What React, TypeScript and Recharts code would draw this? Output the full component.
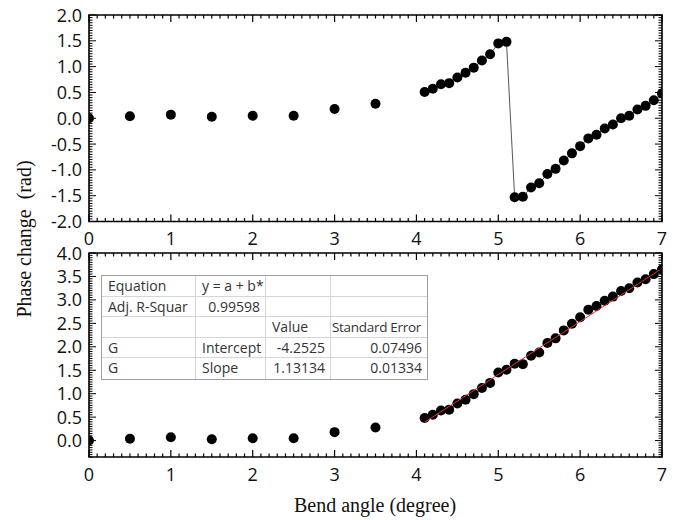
import { ScatterChart, Scatter, XAxis, YAxis, ReferenceArea } from "recharts";

// measured points: bend angle (degree) vs phase change (rad)
const angleLow = [0, 0.5, 1, 1.5, 2, 2.5, 3, 3.5];
const phaseLow = [0, 0.04, 0.07, 0.03, 0.05, 0.05, 0.18, 0.28];

const angleHigh = [
  4.1, 4.2, 4.3, 4.4, 4.5, 4.6, 4.7, 4.8, 4.9, 5.0, 5.1, 5.2, 5.3, 5.4, 5.5,
  5.6, 5.7, 5.8, 5.9, 6.0, 6.1, 6.2, 6.3, 6.4, 6.5, 6.6, 6.7, 6.8, 6.9, 7.0,
];
// top panel: wrapped phase (jumps at 5.1 -> 5.2)
const phaseWrapped = [
  0.51, 0.57, 0.66, 0.68, 0.79, 0.88, 0.98, 1.12, 1.24, 1.45, 1.48, -1.53, -1.52, -1.34, -1.26,
  -1.08, -0.98, -0.82, -0.68, -0.54, -0.39, -0.32, -0.2, -0.12, 0.0, 0.05, 0.17, 0.24, 0.35, 0.48,
];
// bottom panel: unwrapped phase
const phaseUnwrapped = [
  0.48, 0.55, 0.64, 0.66, 0.79, 0.87, 0.99, 1.12, 1.23, 1.45, 1.51, 1.64, 1.63, 1.81, 1.88,
  2.08, 2.18, 2.35, 2.49, 2.63, 2.79, 2.87, 2.98, 3.07, 3.19, 3.25, 3.37, 3.44, 3.55, 3.65,
];

// linear fit end points (red line)
const fitAngle = [4.1, 7.0];
const fitPhase = [0.39, 3.67];

const xMajor = [0, 1, 2, 3, 4, 5, 6, 7];
const topYMajor = [-2, -1.5, -1, -0.5, 0, 0.5, 1, 1.5, 2];
const bottomYMajor = [0, 0.5, 1, 1.5, 2, 2.5, 3, 3.5, 4];

// fit result table
const tableRows = [
  ["Equation", "y = a + b*", "", ""],
  ["Adj. R-Squar", "0.99598", "", ""],
  ["", "", "Value", "Standard Error"],
  ["G", "Intercept", "-4.2525", "0.07496"],
  ["G", "Slope", "1.13134", "0.01334"],
];
const rightAligned = ["0.99598", "-4.2525", "0.07496", "1.13134", "0.01334"];

const pts = (xs: number[], ys: number[]) => xs.map((x, i) => ({ x, y: ys[i] }));

// minor tick positions for the Origin-style frame
function steps(from: number, to: number, step: number) {
  const out: number[] = [];
  const n = Math.round((to - from) / step);
  for (let i = 0; i <= n; i++) out.push(+(from + i * step).toFixed(3));
  return out;
}

const PLOT_W = 573;
const FONT = "'Open Sans', 'Noto Sans', sans-serif";

const isIn = (list: number[], v: number) => list.some((m) => Math.abs(m - v) < 1e-6);

function XTick(props: any) {
  const { x, y, payload, plotH } = props;
  const v = payload.value;
  const major = isIn(xMajor, v);
  const len = major ? 7 : 3.5;
  return (
    <g>
      <line x1={x} x2={x} y1={y} y2={y - len} stroke="#000" strokeWidth={1.2} />
      <line x1={x} x2={x} y1={y - plotH} y2={y - plotH + len} stroke="#000" strokeWidth={1.2} />
      {major && (
        <text x={x} y={y + 23.5} textAnchor="middle" fontSize={18} fontFamily={FONT} fill="#111">
          {v}
        </text>
      )}
    </g>
  );
}

function YTick(props: any) {
  const { x, y, payload, majors } = props;
  const v = payload.value;
  const major = isIn(majors, v);
  const len = major ? 7 : 3.5;
  return (
    <g>
      <line x1={x} x2={x + len} y1={y} y2={y} stroke="#000" strokeWidth={1} />
      <line x1={x + PLOT_W} x2={x + PLOT_W - len} y1={y} y2={y} stroke="#000" strokeWidth={1} />
      {major && (
        <text x={x - 7} y={y + 6.5} textAnchor="end" fontSize={18} fontFamily={FONT} fill="#111">
          {v.toFixed(1)}
        </text>
      )}
    </g>
  );
}

const dot = (p: any) => <circle cx={p.cx} cy={p.cy} r={5} fill="#000" />;
const noDot = () => <g />;

function FitTable() {
  return (
    <div
      style={{
        position: "absolute",
        left: 101,
        top: 275,
        width: 325,
        border: "1px solid #a0a0a0",
        background: "#fff",
        fontFamily: FONT,
        fontSize: 14,
        color: "#333",
      }}
    >
      {tableRows.map((row, r) => (
        <div key={r} style={{ display: "flex", height: 20.6 }}>
          {row.map((cell, c) => {
            const wide = cell === "Standard Error";
            return (
              <div
                key={c}
                style={{
                  width: [94, 70, 65, 96][c],
                  boxSizing: "border-box",
                  borderRight: c < 3 ? "1px solid #d6d6d6" : "none",
                  borderBottom: r < 4 ? "1px solid #d6d6d6" : "none",
                  lineHeight: "20px",
                  padding: wide ? "0 0 0 1px" : "0 5px 0 6px",
                  fontSize: wide ? 13.5 : 14,
                  letterSpacing: wide ? -0.3 : 0,
                  textAlign: rightAligned.includes(cell) ? "right" : "left",
                  whiteSpace: "nowrap",
                }}
              >
                {cell}
              </div>
            );
          })}
        </div>
      ))}
    </div>
  );
}

export default function App() {
  const topH = 206.5;
  const botH = 204;
  return (
    <div style={{ position: "absolute", left: 0, top: 0, width: 681, height: 520, background: "#fff" }}>
      <div style={{ position: "absolute", left: 0, top: 0 }}>
        <ScatterChart width={681} height={258} margin={{ top: 15, right: 19, bottom: 8, left: 0 }}>
          <XAxis
            type="number"
            dataKey="x"
            domain={[0, 7]}
            allowDataOverflow
            ticks={steps(0, 7, 0.1)}
            interval={0}
            height={28.5}
            tickSize={0}
            tickMargin={0}
            tickLine={false}
            axisLine={false}
            tick={(p: any) => <XTick {...p} plotH={topH} />}
          />
          <YAxis
            type="number"
            dataKey="y"
            domain={[-2, 2]}
            allowDataOverflow
            ticks={steps(-2, 2, 0.05)}
            interval={0}
            width={89}
            tickSize={0}
            tickMargin={0}
            tickLine={false}
            axisLine={false}
            tick={(p: any) => <YTick {...p} majors={topYMajor} />}
          />
          <ReferenceArea x1={0} x2={7} y1={-2} y2={2} fill="none" stroke="#000" strokeWidth={1.6} />
          <Scatter data={pts(angleLow, phaseLow)} shape={dot} isAnimationActive={false} />
          <Scatter
            data={pts(angleHigh, phaseWrapped)}
            shape={dot}
            line={{ stroke: "#555", strokeWidth: 1 }}
            lineType="joint"
            isAnimationActive={false}
          />
        </ScatterChart>
      </div>

      <div style={{ position: "absolute", left: 0, top: 240 }}>
        <ScatterChart width={681} height={258} margin={{ top: 13, right: 19, bottom: 17, left: 0 }}>
          <XAxis
            type="number"
            dataKey="x"
            domain={[0, 7]}
            allowDataOverflow
            ticks={steps(0, 7, 0.1)}
            interval={0}
            height={24}
            tickSize={0}
            tickMargin={0}
            tickLine={false}
            axisLine={false}
            tick={(p: any) => <XTick {...p} plotH={botH} />}
          />
          <YAxis
            type="number"
            dataKey="y"
            domain={[-0.35, 4]}
            allowDataOverflow
            ticks={steps(-0.35, 4, 0.05)}
            interval={0}
            width={89}
            tickSize={0}
            tickMargin={0}
            tickLine={false}
            axisLine={false}
            tick={(p: any) => <YTick {...p} majors={bottomYMajor} />}
          />
          <ReferenceArea x1={0} x2={7} y1={-0.35} y2={4} fill="none" stroke="#000" strokeWidth={1.6} />
          <Scatter data={pts(angleLow, phaseLow)} shape={dot} isAnimationActive={false} />
          <Scatter data={pts(angleHigh, phaseUnwrapped)} shape={dot} isAnimationActive={false} />
          <Scatter
            data={pts(fitAngle, fitPhase)}
            shape={noDot}
            line={{ stroke: "#e0303a", strokeWidth: 1 }}
            lineType="joint"
            isAnimationActive={false}
          />
        </ScatterChart>
      </div>

      <FitTable />

      {/* shared axis titles */}
      <div
        style={{
          position: "absolute",
          left: 24,
          top: 239,
          transform: "translate(-50%, -50%) rotate(-90deg)",
          fontFamily: "'Liberation Serif', serif",
          fontSize: 20,
          whiteSpace: "pre",
          color: "#111",
          lineHeight: "20px",
        }}
      >
        {"Phase change  (rad)"}
      </div>
      <div
        style={{
          position: "absolute",
          left: 375,
          top: 495,
          transform: "translateX(-50%)",
          fontFamily: "'Liberation Serif', serif",
          fontSize: 20,
          whiteSpace: "nowrap",
          color: "#111",
          lineHeight: "20px",
        }}
      >
        Bend angle (degree)
      </div>
    </div>
  );
}
